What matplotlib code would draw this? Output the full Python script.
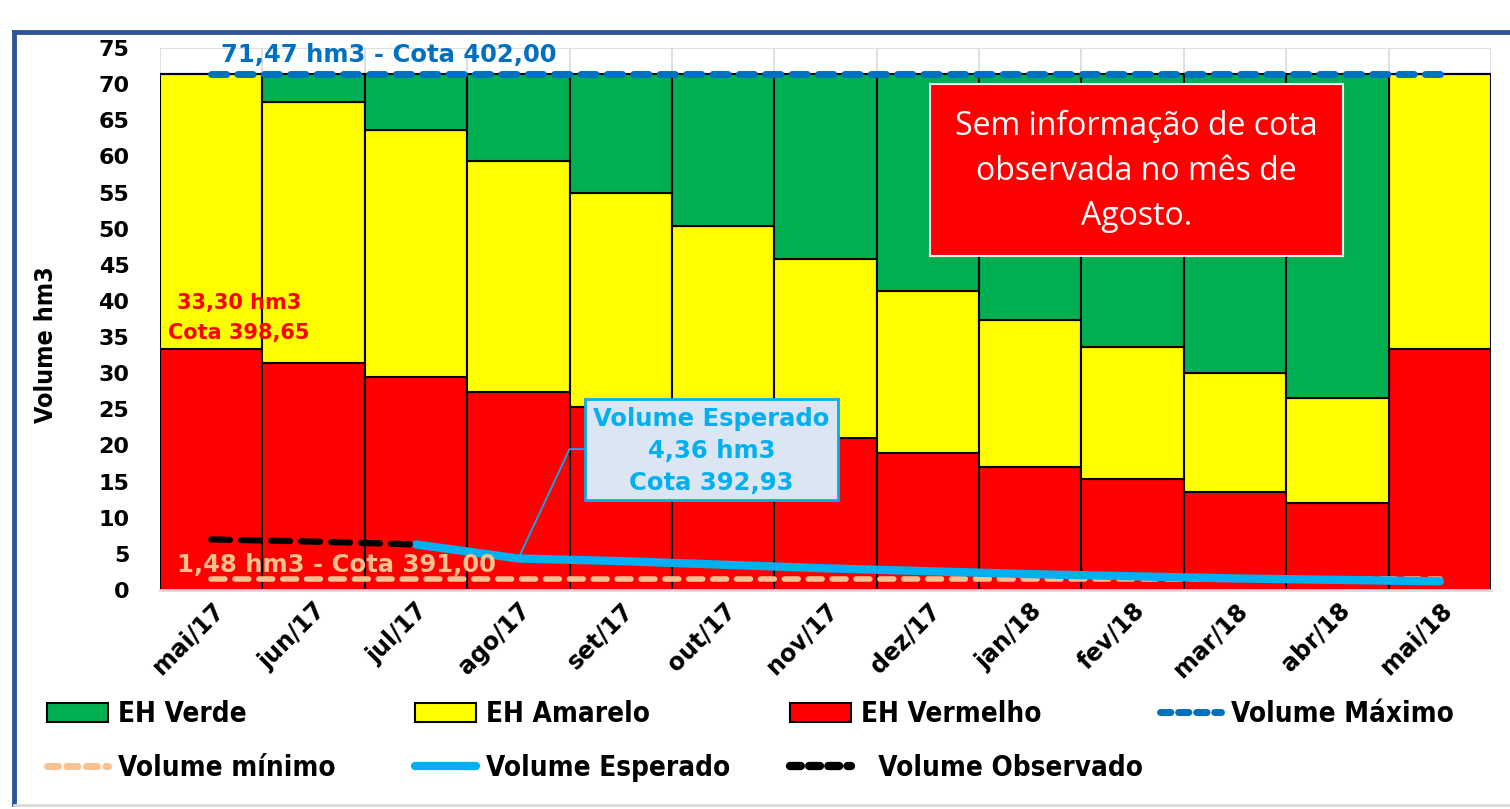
import matplotlib.pyplot as plt
from matplotlib.patches import Rectangle, Patch
from matplotlib.lines import Line2D

meses = ['mai/17', 'jun/17', 'jul/17', 'ago/17', 'set/17', 'out/17', 'nov/17',
         'dez/17', 'jan/18', 'fev/18', 'mar/18', 'abr/18', 'mai/18']
vol_max = 71.47
vol_min = 1.48
# topo de cada faixa (hm3)
vermelho = [33.3, 31.4, 29.5, 27.4, 25.3, 23.1, 21.0, 18.9, 17.0, 15.3, 13.6, 12.0, 33.3]
amarelo_topo = [71.47, 67.5, 63.6, 59.3, 55.0, 50.4, 45.8, 41.4, 37.4, 33.6, 30.0, 26.6, 71.47]
esperado_x = list(range(2, 13))
esperado = [6.3, 4.36, 4.0, 3.5, 3.0, 2.6, 2.2, 1.9, 1.6, 1.4, 1.2]
observado_x = [0, 1, 2]
observado = [7.0, 6.7, 6.3]

amarelo = [a - v for a, v in zip(amarelo_topo, vermelho)]
verde = [vol_max - a for a in amarelo_topo]

C_VERDE = '#00B050'
C_AMAR = '#FFFF00'
C_VERM = '#FF0000'
C_MAX = '#0070C0'
C_MIN = '#FAC090'
C_ESP = '#00B0F0'

fig = plt.figure(figsize=(15.1, 8.09), dpi=100)
ax = fig.add_axes([160 / 1510, 1 - 590 / 809, 1331 / 1510, 542 / 809])

x = range(len(meses))
ax.bar(x, vermelho, width=1.0, color=C_VERM, edgecolor='black', lw=1.5, zorder=2)
ax.bar(x, amarelo, width=1.0, bottom=vermelho, color=C_AMAR, edgecolor='black', lw=1.5, zorder=2)
ax.bar(x, verde, width=1.0, bottom=amarelo_topo, color=C_VERDE, edgecolor='black', lw=1.5, zorder=2)

ax.plot([0, 12], [vol_max, vol_max], color=C_MAX, lw=5, dashes=(2.2, 1.6),
        dash_capstyle='round', zorder=4)
ax.plot([0, 12], [vol_min, vol_min], color=C_MIN, lw=4, dashes=(2.5, 1.8),
        dash_capstyle='round', zorder=4)
ax.plot(esperado_x, esperado, color=C_ESP, lw=6, solid_capstyle='round', zorder=5)
ax.plot(observado_x, observado, color='black', lw=4.5, dashes=(3.0, 1.8),
        dash_capstyle='round', zorder=6)

ax.set_xlim(-0.5, 12.5)
ax.set_ylim(0, 75)
ax.set_yticks(range(0, 80, 5))
ax.set_xticks(list(x))
ax.set_xticks([i + 0.5 for i in range(-1, 13)], minor=True)
ax.set_xticklabels(meses, rotation=45, ha='right', rotation_mode='anchor',
                   fontsize=17, fontweight='bold')
ax.tick_params(axis='y', labelsize=16, length=0, pad=22)
for t in ax.get_yticklabels():
    t.set_fontweight('bold')
ax.tick_params(axis='x', which='both', length=0, pad=6)
ax.grid(True, axis='y', color='#D9D9D9', lw=1.2)
ax.grid(True, axis='x', which='minor', color='#D9D9D9', lw=1.2)
ax.set_axisbelow(True)
for s in ['top', 'right', 'left']:
    ax.spines[s].set_visible(False)
ax.spines['bottom'].set_color('#D9D9D9')
ax.spines['bottom'].set_linewidth(2)

ax.set_ylabel('Volume hm3', fontsize=18, fontstretch='condensed', fontweight='bold')
ax.yaxis.set_label_coords(-0.077, 0.452)

# textos
ax.text(0.1, 74.0, '71,47 hm3 - Cota 402,00', color=C_MAX, fontsize=17.5,
        fontweight='bold', va='center', ha='left', zorder=7)
ax.text(-0.33, 3.5, '1,48 hm3 - Cota 391,00', color=C_MIN, fontsize=17.5,
        fontweight='bold', va='center', ha='left', zorder=7)
ax.text(0.27, 39.7, '33,30 hm3', color=C_VERM, fontsize=15, fontweight='bold',
        ha='center', va='center', zorder=7)
ax.text(0.27, 35.5, 'Cota 398,65', color=C_VERM, fontsize=15, fontweight='bold',
        ha='center', va='center', zorder=7)

# caixa volume esperado
ax.add_patch(Rectangle((3.65, 12.5), 2.47, 13.9, facecolor='#DCE6F2',
                       edgecolor=C_ESP, lw=2, zorder=8))
ax.plot([3.0, 3.5, 3.65], [4.36, 19.5, 19.5], color=C_ESP, lw=1.3, zorder=7)
ax.text(4.885, 19.3, 'Volume Esperado\n4,36 hm3\nCota 392,93', color=C_ESP,
        fontsize=17.5, fontweight='bold', ha='center', va='center',
        linespacing=1.42, zorder=9)

# caixa sem informação
ax.add_patch(Rectangle((7.02, 46.2), 4.03, 23.8, facecolor=C_VERM,
                       edgecolor='#F2F2F2', lw=1.5, zorder=8))
ax.text(9.035, 57.9, 'Sem informação de cota\nobservada no mês de\nAgosto.',
        color='white', fontsize=23, family='Open Sans', ha='center', va='center',
        linespacing=1.47, zorder=9)

# moldura
fig.add_artist(Line2D([14 / 1510, 14 / 1510], [1 - 32 / 809, 1 - 804 / 809],
                      transform=fig.transFigure, color='#2F5597', lw=3.5))
fig.add_artist(Line2D([14 / 1510, 1.0], [1 - 32 / 809, 1 - 32 / 809],
                      transform=fig.transFigure, color='#2F5597', lw=3.5))
fig.add_artist(Line2D([14 / 1510, 1.0], [1 - 805 / 809, 1 - 805 / 809],
                      transform=fig.transFigure, color='#D9D9D9', lw=2))

# legenda em colunas
leg_font = dict(size=20, stretch='condensed', weight='bold')
colunas = [
    (47, [Patch(facecolor=C_VERDE, edgecolor='black', lw=1.5),
          Line2D([], [], color=C_MIN, lw=5, dashes=(1.6, 1.2), dash_capstyle='round')],
     ['EH Verde', 'Volume mínimo']),
    (415, [Patch(facecolor=C_AMAR, edgecolor='black', lw=1.5),
           Line2D([], [], color=C_ESP, lw=6, solid_capstyle='round')],
     ['EH Amarelo', 'Volume Esperado']),
    (790, [Patch(facecolor=C_VERM, edgecolor='black', lw=1.5),
           Line2D([], [], color='black', lw=6, dashes=(1.3, 1.0), dash_capstyle='round')],
     ['EH Vermelho', '  Volume Observado']),
    (1160, [Line2D([], [], color=C_MAX, lw=5, dashes=(1.5, 1.1), dash_capstyle='round')],
     ['Volume Máximo']),
]
for xpx, hs, ls in colunas:
    fig.legend(hs, ls, loc='upper left', bbox_to_anchor=(xpx / 1510, 1 - 700 / 809),
               frameon=False, prop=leg_font, handlelength=2.2, handletextpad=0.35,
               labelspacing=0.94, borderpad=0, borderaxespad=0)

fig.savefig('out.png', dpi=100)
